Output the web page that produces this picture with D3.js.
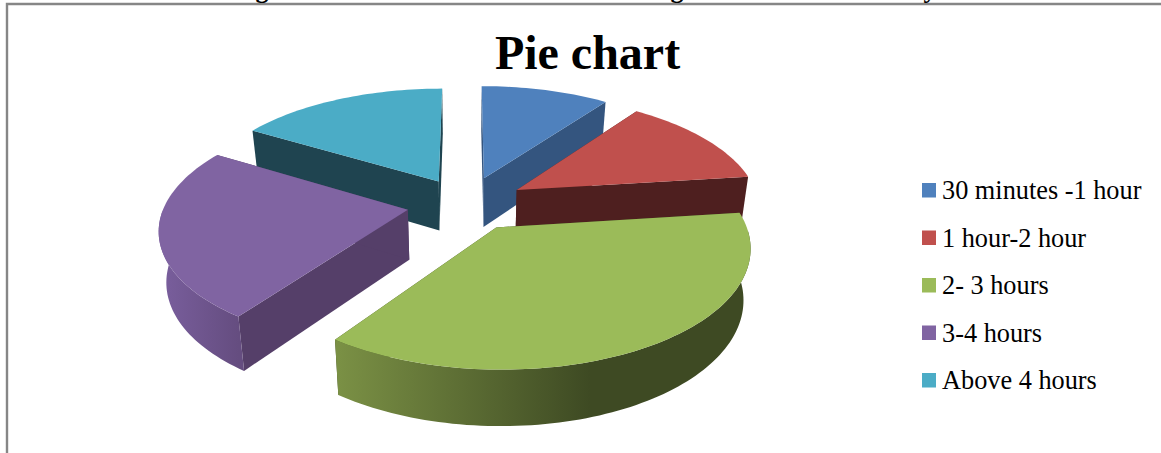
<!DOCTYPE html>
<html>
<head>
<meta charset="utf-8">
<script src="https://cdn.jsdelivr.net/npm/d3@7"></script>
<style>
  html, body { margin: 0; padding: 0; background: #fff; }
  svg { display: block; }
</style>
</head>
<body>
<svg id="chart" width="1161" height="453"></svg>
<script>
const categories = ["30 minutes -1 hour", "1 hour-2 hour", "2- 3 hours", "3-4 hours", "Above 4 hours"];
const shares = [10, 13, 36.8, 23.8, 16.4];
const topColors = ["#4f81bd", "#c0504d", "#9bbb59", "#8064a2", "#4bacc6"];
const cutColors = ["#34557f", "#4e1f1f", "#3f4a24", "#553f69", "#1f4450"];
const rimLight = ["#4f81bd", "#c0504d", "#7b9145", "#7a5f9e", "#4bacc6"];
const rimDark = ["#34557f", "#4e1f1f", "#3e4a23", "#654d80", "#1f4450"];
const chartTitle = "Pie chart";
// Descenders of the heading line that sits above the frame and runs off the page
const clippedGlyphs = ["g", "g", "y"];
const clippedGlyphX = [262, 677, 930];

const svg = d3.select("#chart");

// Camera and pie proportions for the tilted, exploded disc
const cx = 466, cy = 204;
const radius = 243, depth = 51;
const pullOut = [60, 60, 57, 59, 57];
const tilt = 0.4654, focal = 1623, taper = 0.025;

function project(x, y, z) {
  const p = (focal / (focal - y)) * (1 - taper * z);
  return [cx + x * p, cy + y * tilt * p + depth * z * p];
}

const pie = d3.pie().sort(null).value(d => d).startAngle(0).endAngle(2 * Math.PI);
const arcs = pie(shares).map((a, i) => ({ ...a, i }));

// d3.pie angles run clockwise from north; on the ground plane y points to the viewer
const onGround = (angle, r) => [Math.sin(angle) * r, -Math.cos(angle) * r];

function sliceGeometry(a) {
  const mid = (a.startAngle + a.endAngle) / 2;
  const [ox, oy] = onGround(mid, pullOut[a.i]);
  const steps = Math.ceil((a.endAngle - a.startAngle) * 40);
  const angles = d3.range(steps + 1).map(k => a.startAngle + (a.endAngle - a.startAngle) * k / steps);
  const toRim = t => {
    const [gx, gy] = onGround(t, radius);
    return [ox + gx, oy + gy];
  };
  return {
    ox, oy,
    rim: angles.map(toRim),
    // Only the stretch of rim that turns toward the viewer shows a curved wall
    frontRim: angles.filter(t => Math.cos(t) <= 0).map(toRim)
  };
}

const defs = svg.append("defs");
const line = d3.line();

// Painter's order: far slices first, the big front slice last
const drawOrder = [0, 4, 1, 3, 2];

drawOrder.forEach(i => {
  const { ox, oy, rim, frontRim } = sliceGeometry(arcs[i]);
  const g = svg.append("g").attr("class", "slice");

  const topRim = rim.map(([x, y]) => project(x, y, 0));
  const lowRim = rim.map(([x, y]) => project(x, y, 1));
  const apexTop = project(ox, oy, 0);
  const apexLow = project(ox, oy, 1);

  [[topRim[0], lowRim[0]], [topRim[topRim.length - 1], lowRim[lowRim.length - 1]]].forEach(([t, l]) => {
    g.append("path")
      .attr("d", line([apexTop, t, l, apexLow]) + "Z")
      .attr("fill", cutColors[i]);
  });

  if (frontRim.length > 1) {
    const frontTop = frontRim.map(([x, y]) => project(x, y, 0));
    const frontLow = frontRim.map(([x, y]) => project(x, y, 1));
    const xs = frontTop.map(d => d[0]);
    const grad = defs.append("linearGradient")
      .attr("id", "rim" + i)
      .attr("gradientUnits", "userSpaceOnUse")
      .attr("x1", d3.min(xs)).attr("x2", i === 2 ? 590 : d3.max(xs))
      .attr("y1", 0).attr("y2", 0);
    grad.append("stop").attr("offset", 0).attr("stop-color", rimLight[i]);
    grad.append("stop").attr("offset", 1).attr("stop-color", rimDark[i]);

    g.append("path")
      .attr("d", line(frontTop.concat(frontLow.slice().reverse())) + "Z")
      .attr("fill", `url(#rim${i})`);
  }

  g.append("path")
    .attr("d", line([apexTop, ...topRim]) + "Z")
    .attr("fill", topColors[i]);
});

// Outer frame: only the top and left edges fall inside the view
svg.append("path")
  .attr("d", "M7,453V4H1161")
  .attr("fill", "none")
  .attr("stroke", "#868686")
  .attr("stroke-width", 2.4);

svg.append("g").selectAll("text").data(clippedGlyphs).join("text")
  .attr("x", (d, i) => clippedGlyphX[i])
  .attr("y", -2.5)
  .attr("text-anchor", "middle")
  .attr("font-family", "'Liberation Serif'")
  .attr("font-weight", "bold")
  .attr("font-size", 26)
  .attr("fill", "#000")
  .text(d => d);

svg.append("text")
  .attr("x", 587.5).attr("y", 69)
  .attr("text-anchor", "middle")
  .attr("font-family", "'Liberation Serif'")
  .attr("font-weight", "bold")
  .attr("font-size", 48)
  .attr("fill", "#000")
  .text(chartTitle);

const legendY = d3.scalePoint().domain(categories).range([199, 389]);
const legend = svg.append("g").selectAll("g").data(categories).join("g")
  .attr("transform", d => `translate(0,${legendY(d)})`);
legend.append("rect")
  .attr("x", 922).attr("y", -16).attr("width", 14).attr("height", 14.5)
  .attr("fill", (d, i) => topColors[i]);
legend.append("text")
  .attr("x", 942).attr("y", 0)
  .attr("font-family", "'Liberation Serif'")
  .attr("font-size", 26.3)
  .attr("fill", "#000")
  .text(d => d);
</script>
</body>
</html>
